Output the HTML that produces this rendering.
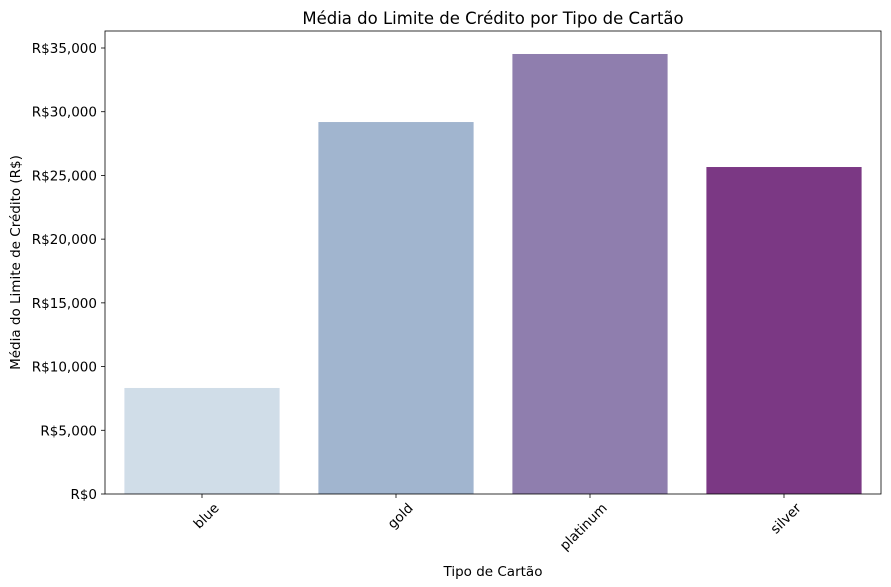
<!DOCTYPE html>
<html><head><meta charset="utf-8"><style>
body{margin:0;background:#fff;}
svg{display:block;font-family:"DejaVu Sans","Liberation Sans",sans-serif;}
</style></head><body>
<svg id="chart" width="891" height="587"></svg>
<script>
const categories = ["blue","gold","platinum","silver"];
const values = [8320, 29190, 34530, 25660];
const colors = ["#d0dde8","#a1b5cf","#8f7eae","#7b3884"];
const yTicks = [0,5000,10000,15000,20000,25000,30000,35000];
const yTickLabels = ["R$0","R$5,000","R$10,000","R$15,000","R$20,000","R$25,000","R$30,000","R$35,000"];

const NS="http://www.w3.org/2000/svg";
const svg=document.getElementById('chart');
const L=105,R=881,T=31,B=494;
const yMax=35000*(B-T)/446;
const y=v=>B-(v/yMax)*(B-T);
const band=(R-L)/categories.length;
const xC=i=>L+band*(i+0.5);
function mk(tag,attrs,text){const e=document.createElementNS(NS,tag);for(const k in attrs)e.setAttribute(k,attrs[k]);if(text!==undefined)e.textContent=text;svg.appendChild(e);return e;}

categories.forEach((c,i)=>{
  const bw=band*0.8;
  const r=mk('rect',{x:xC(i)-bw/2,y:y(values[i]),width:bw,height:B-y(values[i]),fill:colors[i]});
  
  
  const t=mk('line',{x1:xC(i),x2:xC(i),y1:B,y2:B+4,stroke:'#000','stroke-width':0.8});
  
  
  const lx=xC(i)+11,ly=B+8;
  const lb=mk('text',{x:lx,y:ly,'font-size':13.5,'text-anchor':'end',transform:`rotate(-45 ${lx} ${ly})`,'dominant-baseline':'hanging'},c);
  
  
});
yTicks.forEach((v,i)=>{
  const t=mk('line',{x1:L-4,x2:L,y1:y(v),y2:y(v),stroke:'#000','stroke-width':0.8});
  
  
  const lb=mk('text',{x:L-8,y:y(v)+5,'font-size':13.5,'text-anchor':'end'},yTickLabels[i]);
  
  
});
const fr=mk('rect',{x:L,y:T,width:R-L,height:B-T,fill:'none',stroke:'#000','stroke-width':0.8});


const ti=mk('text',{x:(L+R)/2,y:24,'font-size':16.5,'text-anchor':'middle'},'Média do Limite de Crédito por Tipo de Cartão');


const xt=mk('text',{x:(L+R)/2,y:576,'font-size':13.5,'text-anchor':'middle'},'Tipo de Cartão');


const yt=mk('text',{x:20,y:(T+B)/2,'font-size':13.5,'text-anchor':'middle',transform:`rotate(-90 20 ${(T+B)/2})`},'Média do Limite de Crédito (R$)');


</script>
</body></html>
